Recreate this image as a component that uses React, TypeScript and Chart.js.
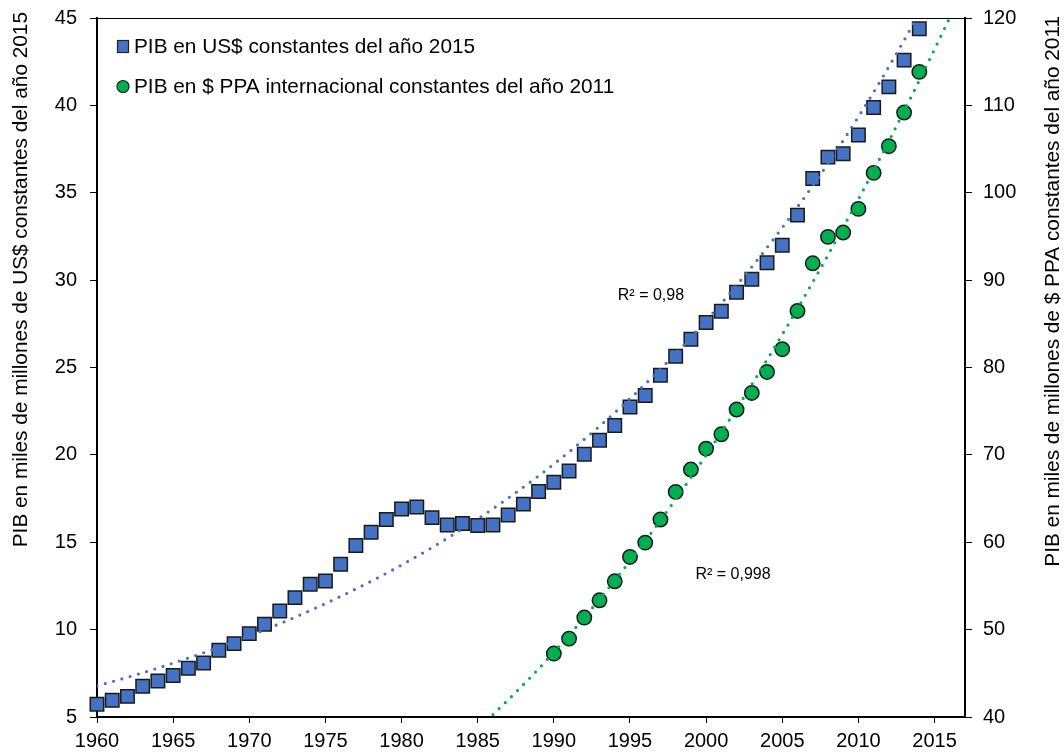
import React, { useEffect, useRef } from 'react';
import { Chart, registerables } from 'chart.js';

Chart.register(...registerables);

// ---------- Data ----------
const yearsUSD = [
  1960, 1961, 1962, 1963, 1964, 1965, 1966, 1967, 1968, 1969,
  1970, 1971, 1972, 1973, 1974, 1975, 1976, 1977, 1978, 1979,
  1980, 1981, 1982, 1983, 1984, 1985, 1986, 1987, 1988, 1989,
  1990, 1991, 1992, 1993, 1994, 1995, 1996, 1997, 1998, 1999,
  2000, 2001, 2002, 2003, 2004, 2005, 2006, 2007, 2008, 2009,
  2010, 2011, 2012, 2013, 2014,
];
const pibUSD2015 = [
  5.73, 5.96, 6.18, 6.76, 7.06, 7.37, 7.79, 8.09, 8.82, 9.2,
  9.77, 10.31, 11.07, 11.83, 12.6, 12.78, 13.74, 14.81, 15.57, 16.3,
  16.9, 17.02, 16.41, 15.99, 16.07, 15.96, 15.99, 16.56, 17.18, 17.9,
  18.43, 19.08, 20.04, 20.84, 21.68, 22.74, 23.4, 24.56, 25.64, 26.62,
  27.58, 28.22, 29.31, 30.05, 30.99, 32.0, 33.72, 35.82, 37.04, 37.23,
  38.3, 39.88, 41.06, 42.59, 44.38,
];
const yearsPPA = [
  1990, 1991, 1992, 1993, 1994, 1995, 1996, 1997, 1998, 1999,
  2000, 2001, 2002, 2003, 2004, 2005, 2006, 2007, 2008, 2009,
  2010, 2011, 2012, 2013, 2014,
];
const pibPPA2011 = [
  47.26, 48.97, 51.38, 53.36, 55.53, 58.32, 59.96, 62.6, 65.76, 68.32,
  70.72, 72.36, 75.19, 77.09, 79.49, 82.09, 86.47, 91.93, 94.95, 95.45,
  98.15, 102.27, 105.33, 109.18, 113.83,
];

const legendLabels = [
  'PIB en US$ constantes del año 2015',
  'PIB en $ PPA internacional constantes del año 2011',
];
const leftTitle = 'PIB en miles de millones de US$ constantes del año 2015';
const rightTitle = 'PIB en miles de millones de $ PPA constantes del año 2011';
const r2Labels = ['R² = 0,98', 'R² = 0,998'];
// label anchors in data units (x: year, y: own axis value)
const r2Anchors = [
  { x: 1994.2, y: 29.1, axis: 'y' },
  { x: 1999.3, y: 56.3, axis: 'y1' },
];
// trendline forecast spans (years)
const usdTrendSpan = [1960, 2014];
const ppaTrendSpan = [1986, 2017];

const BLUE = '#4472C4';
const GREEN = '#00B050';
const FONT = "'Liberation Sans', Arial, Helvetica, sans-serif";

// ---------- Regressions (trendlines computed from the data) ----------
function expFit(xs: number[], ys: number[]) {
  const n = xs.length;
  const mx = xs.reduce((a, b) => a + b, 0) / n;
  const ly = ys.map(Math.log);
  const my = ly.reduce((a, b) => a + b, 0) / n;
  let sxy = 0, sxx = 0;
  for (let i = 0; i < n; i++) {
    sxy += (xs[i] - mx) * (ly[i] - my);
    sxx += (xs[i] - mx) * (xs[i] - mx);
  }
  const b = sxy / sxx;
  return (x: number) => Math.exp(my + b * (x - mx));
}

function quadFit(xs: number[], ys: number[]) {
  const n = xs.length;
  const mx = xs.reduce((a, b) => a + b, 0) / n;
  const t = xs.map((x) => x - mx);
  let s0 = n, s1 = 0, s2 = 0, s3 = 0, s4 = 0, r0 = 0, r1 = 0, r2 = 0;
  for (let i = 0; i < n; i++) {
    const u = t[i];
    s1 += u; s2 += u * u; s3 += u * u * u; s4 += u * u * u * u;
    r0 += ys[i]; r1 += u * ys[i]; r2 += u * u * ys[i];
  }
  const M = [
    [s0, s1, s2, r0],
    [s1, s2, s3, r1],
    [s2, s3, s4, r2],
  ];
  for (let i = 0; i < 3; i++) {
    let p = i;
    for (let k = i + 1; k < 3; k++) if (Math.abs(M[k][i]) > Math.abs(M[p][i])) p = k;
    [M[i], M[p]] = [M[p], M[i]];
    for (let k = 0; k < 3; k++) {
      if (k === i) continue;
      const f = M[k][i] / M[i][i];
      for (let j = i; j < 4; j++) M[k][j] -= f * M[i][j];
    }
  }
  const a = M[0][3] / M[0][0];
  const b = M[1][3] / M[1][1];
  const c = M[2][3] / M[2][2];
  return (x: number) => a + b * (x - mx) + c * (x - mx) * (x - mx);
}

function sampleCurve(f: (x: number) => number, span: number[]) {
  const pts: { x: number; y: number }[] = [];
  const steps = 200;
  for (let i = 0; i <= steps; i++) {
    const x = span[0] + ((span[1] - span[0]) * i) / steps;
    pts.push({ x, y: f(x) });
  }
  return pts;
}

const overlayPlugin = {
  id: 'overlay',
  afterDatasetsDraw(chart: any) {
    const { ctx, chartArea, scales } = chart;
    ctx.save();
    // top frame line
    ctx.strokeStyle = '#000';
    ctx.lineWidth = 1;
    ctx.beginPath();
    ctx.moveTo(chartArea.left, chartArea.top + 0.5);
    ctx.lineTo(chartArea.right, chartArea.top + 0.5);
    ctx.stroke();

    // legend
    const lx = chartArea.left + 26;
    const rows = [chartArea.top + 28.5, chartArea.top + 68.5];
    ctx.lineWidth = 1.2;
    ctx.strokeStyle = '#222';
    ctx.fillStyle = BLUE;
    ctx.fillRect(lx - 5.5, rows[0] - 6, 11, 12);
    ctx.strokeRect(lx - 5.5, rows[0] - 6, 11, 12);
    ctx.beginPath();
    ctx.arc(lx, rows[1], 6, 0, Math.PI * 2);
    ctx.fillStyle = GREEN;
    ctx.fill();
    ctx.stroke();
    ctx.fillStyle = '#000';
    ctx.font = `20.8px ${FONT}`;
    ctx.textBaseline = 'middle';
    ctx.textAlign = 'left';
    ctx.fillText(legendLabels[0], lx + 11, rows[0] + 1);
    ctx.fillText(legendLabels[1], lx + 11, rows[1] + 1);

    // R² labels
    ctx.font = `16px ${FONT}`;
    r2Labels.forEach((txt, i) => {
      const a = r2Anchors[i];
      const px = scales.x.getPixelForValue(a.x);
      const py = scales[a.axis].getPixelForValue(a.y);
      ctx.fillText(txt, px, py);
    });

    // axis titles (both read bottom-to-top)
    ctx.font = `20.8px ${FONT}`;
    ctx.textBaseline = 'alphabetic';
    ctx.textAlign = 'right';
    ctx.save();
    ctx.translate(27, 12);
    ctx.rotate(-Math.PI / 2);
    ctx.fillText(leftTitle, 0, 0);
    ctx.restore();
    ctx.save();
    ctx.translate(1059, 16);
    ctx.rotate(-Math.PI / 2);
    ctx.fillText(rightTitle, 0, 0);
    ctx.restore();
    ctx.restore();
  },
};

export default function App() {
  const canvasRef = useRef<HTMLCanvasElement | null>(null);

  useEffect(() => {
    if (!canvasRef.current) return;
    const usdTrend = expFit(yearsUSD, pibUSD2015);
    const ppaTrend = quadFit(yearsPPA, pibPPA2011);

    const tickFont = { size: 20, family: FONT };
    const noPadY = (w: number) => (s: any) => {
      s.width = w;
      s.paddingTop = 0;
      s.paddingBottom = 0;
    };
    const chart = new Chart(canvasRef.current, {
      type: 'scatter',
      data: {
        datasets: [
          {
            label: 'trend-usd',
            data: sampleCurve(usdTrend, usdTrendSpan),
            yAxisID: 'y',
            showLine: true,
            pointRadius: 0,
            borderColor: BLUE,
            borderWidth: 3.2,
            borderDash: [0, 8.6],
            borderCapStyle: 'round',
            fill: false,
            order: 0,
          },
          {
            label: 'trend-ppa',
            data: sampleCurve(ppaTrend, ppaTrendSpan),
            yAxisID: 'y1',
            showLine: true,
            pointRadius: 0,
            borderColor: GREEN,
            borderWidth: 3.2,
            borderDash: [0, 8.6],
            borderCapStyle: 'round',
            fill: false,
            order: 0,
          },
          {
            label: legendLabels[0],
            data: yearsUSD.map((x, i) => ({ x, y: pibUSD2015[i] })),
            yAxisID: 'y',
            pointStyle: 'rect',
            pointRadius: 9.5,
            backgroundColor: BLUE,
            borderColor: '#1a1a1a',
            borderWidth: 1.5,
            clip: false,
            order: 1,
          },
          {
            label: legendLabels[1],
            data: yearsPPA.map((x, i) => ({ x, y: pibPPA2011[i] })),
            yAxisID: 'y1',
            pointStyle: 'circle',
            pointRadius: 7.2,
            backgroundColor: GREEN,
            borderColor: '#1a1a1a',
            borderWidth: 1.5,
            clip: false,
            order: 1,
          },
        ],
      },
      options: {
        animation: false,
        responsive: false,
        devicePixelRatio: 1,
        layout: { padding: { top: 18, left: 0, right: 0, bottom: 0 } },
        plugins: {
          legend: { display: false },
          tooltip: { enabled: false },
        },
        scales: {
          x: {
            type: 'linear',
            position: 'bottom',
            min: 1960,
            max: 2017,
            afterFit: (s: any) => {
              s.height = 36;
              s.paddingLeft = 0;
              s.paddingRight = 0;
            },
            ticks: {
              stepSize: 5,
              includeBounds: false,
              color: '#000',
              font: tickFont,
              padding: 6,
              maxRotation: 0,
              autoSkip: false,
              callback: (v: any) => String(v),
            },
            grid: { drawOnChartArea: false, drawTicks: true, tickLength: 6, color: '#000', lineWidth: 1 },
            border: { display: true, color: '#000', width: 2 },
          },
          y: {
            type: 'linear',
            position: 'left',
            min: 5,
            max: 45,
            afterFit: noPadY(97),
            ticks: { stepSize: 5, color: '#000', font: tickFont, padding: 13 },
            grid: { drawOnChartArea: false, drawTicks: true, tickLength: 7, color: '#000', lineWidth: 1 },
            border: { display: true, color: '#000', width: 2 },
          },
          y1: {
            type: 'linear',
            position: 'right',
            min: 40,
            max: 120,
            afterFit: noPadY(99),
            ticks: { stepSize: 10, color: '#000', font: tickFont, padding: 11 },
            grid: { drawOnChartArea: false, drawTicks: true, tickLength: 7, color: '#000', lineWidth: 1 },
            border: { display: true, color: '#000', width: 2 },
          },
        },
      },
      plugins: [overlayPlugin],
    } as any);
    return () => chart.destroy();
  }, []);

  return (
    <div style={{ position: 'fixed', left: 0, top: 0, width: 1064, height: 753, background: '#fff' }}>
      <canvas ref={canvasRef} width={1064} height={753} style={{ display: 'block' }} />
    </div>
  );
}
